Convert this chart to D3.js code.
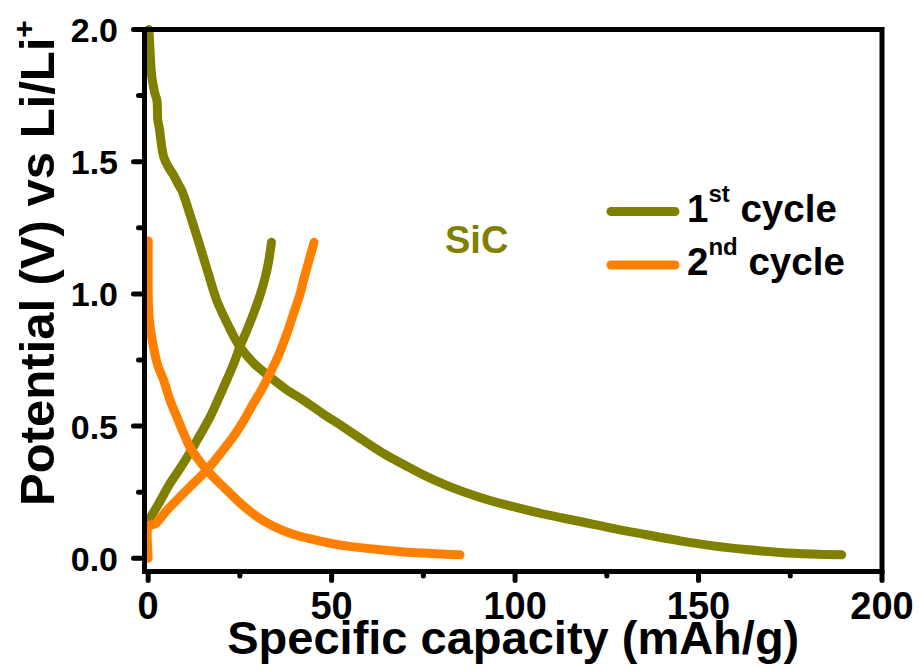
<!DOCTYPE html>
<html>
<head>
<meta charset="utf-8">
<script src="https://cdnjs.cloudflare.com/ajax/libs/d3/7.8.5/d3.min.js"></script>
<style>
  html, body { margin: 0; padding: 0; background: #fff; }
  svg { display: block; }
  text { font-family: "Liberation Sans", Arial, Helvetica, sans-serif; font-weight: bold; fill: #000; }
</style>
</head>
<body>
<svg id="chart" width="919" height="670"></svg>
<script>
// ---- Data ----
// 1st cycle, discharge (olive)
const c1DisCap = [0.2, 0.4, 0.8, 1.0, 1.8, 2.4, 2.6, 3.0, 4.2, 5.5, 6.9, 8.0, 9.2, 11.4, 13.7, 16.4, 18.7, 21.5, 25, 29, 33.2, 37.5, 42.3, 47.5, 53.2, 58.5, 64.1, 70, 75.5, 82, 90.5, 99.5, 108.5, 117.7, 127, 135.9, 145, 154, 163, 172.2, 181, 189];
const c1DisV   = [2.0, 1.95, 1.85, 1.82, 1.76, 1.73, 1.66, 1.63, 1.52, 1.48, 1.45, 1.42, 1.39, 1.30, 1.20, 1.076, 0.975, 0.89, 0.80, 0.735, 0.686, 0.64, 0.598, 0.548, 0.497, 0.447, 0.397, 0.352, 0.312, 0.272, 0.230, 0.195, 0.165, 0.139, 0.112, 0.089, 0.066, 0.047, 0.033, 0.022, 0.016, 0.013];
// 1st cycle, charge (olive)
const c1ChgCap = [0, 3, 6, 8.7, 11.4, 14.2, 16.9, 19.2, 21.4, 23.3, 25, 26.9, 28.7, 30.5, 31.9, 32.8, 33.6];
const c1ChgV   = [0.14, 0.21, 0.284, 0.34, 0.40, 0.468, 0.535, 0.605, 0.674, 0.735, 0.80, 0.862, 0.925, 0.995, 1.063, 1.12, 1.195];
// 2nd cycle, discharge (orange)
const c2DisCap = [0, 0.1, 0.5, 1.45, 2.6, 4.2, 5.9, 7.8, 9.6, 11.4, 13.6, 16, 19, 22.3, 25.8, 29.6, 34, 38.7, 44, 49.6, 56, 63.2, 69, 75, 80, 85];
const c2DisV   = [1.2, 0.95, 0.88, 0.80, 0.73, 0.674, 0.60, 0.535, 0.475, 0.42, 0.375, 0.334, 0.29, 0.246, 0.20, 0.158, 0.122, 0.095, 0.074, 0.057, 0.043, 0.032, 0.025, 0.02, 0.016, 0.013];
// 2nd cycle, charge (orange)
const c2ChgCap = [0, 0, 0.5, 1.9, 5, 8.7, 12.3, 16, 19.6, 23.2, 26, 28.7, 31, 33.2, 35.6, 37.8, 39.6, 41.4, 42.3, 43.7, 45.2];
const c2ChgV   = [0.0, 0.12, 0.125, 0.13, 0.18, 0.233, 0.283, 0.334, 0.395, 0.46, 0.52, 0.586, 0.64, 0.70, 0.77, 0.85, 0.925, 1.0, 1.05, 1.12, 1.195];

const seriesNames = ["1st cycle", "2nd cycle"];
const seriesColors = ["#808000", "#ff8000"];
const xTicksMajor = [0, 50, 100, 150, 200];
const xTicksMinor = [25, 75, 125, 175];
const yTicksMajor = [0.0, 0.5, 1.0, 1.5, 2.0];
const yTicksMinor = [0.25, 0.75, 1.25, 1.75];
const xTitle = "Specific capacity (mAh/g)";
const yTitle = "Potential (V) vs Li/Li";
const sampleLabel = "SiC";

// ---- Layout ----
const svg = d3.select("#chart");
const L = 144.5, R = 882, T = 29.5, B = 571.5;
const x = d3.scaleLinear().domain([-1, 200]).range([L, R]);
const y = d3.scaleLinear().domain([-0.05, 2.0]).range([B, T]);

const line = d3.line().x(d => x(d[0])).y(d => y(d[1])).curve(d3.curveCatmullRom.alpha(0.5));
const zip = (a, b) => a.map((v, i) => [v, b[i]]);

const curves = [
  { pts: zip(c1DisCap, c1DisV), color: seriesColors[0] },
  { pts: zip(c1ChgCap, c1ChgV), color: seriesColors[0] },
  { pts: zip(c2DisCap, c2DisV), color: seriesColors[1] },
  { pts: zip(c2ChgCap, c2ChgV), color: seriesColors[1] }
];

svg.append("g").selectAll("path").data(curves).join("path")
  .attr("d", d => line(d.pts))
  .attr("fill", "none")
  .attr("stroke", d => d.color)
  .attr("stroke-width", 9)
  .attr("stroke-linecap", "round")
  .attr("stroke-linejoin", "round");

// ---- Frame ----
svg.append("rect").attr("x", L).attr("y", T).attr("width", R - L).attr("height", B - T)
  .attr("fill", "none").attr("stroke", "#000").attr("stroke-width", 5);

// ---- Ticks ----
const tickG = svg.append("g").attr("stroke", "#000").attr("stroke-width", 5).attr("stroke-linecap", "round");
tickG.selectAll(".xM").data(xTicksMajor).join("line").attr("class", "xM")
  .attr("x1", d => x(d)).attr("x2", d => x(d)).attr("y1", B).attr("y2", B + 9);
tickG.selectAll(".xm").data(xTicksMinor).join("line").attr("class", "xm")
  .attr("x1", d => x(d)).attr("x2", d => x(d)).attr("y1", B).attr("y2", B + 4.5);
tickG.selectAll(".yM").data(yTicksMajor).join("line").attr("class", "yM")
  .attr("x1", L).attr("x2", L - 11).attr("y1", d => y(d)).attr("y2", d => y(d));
tickG.selectAll(".ym").data(yTicksMinor).join("line").attr("class", "ym")
  .attr("x1", L).attr("x2", L - 6).attr("y1", d => y(d)).attr("y2", d => y(d));

// ---- Tick labels ----
svg.append("g").selectAll("text").data(xTicksMajor).join("text")
  .attr("x", d => x(d)).attr("y", 619)
  .attr("text-anchor", "middle").attr("font-size", 38)
  .text(d => d3.format("d")(d));
svg.append("g").selectAll("text").data(yTicksMajor).join("text")
  .attr("x", 118).attr("y", d => y(d) + 12.5)
  .attr("text-anchor", "end").attr("font-size", 34)
  .text(d => d3.format(".1f")(d));

// ---- Axis titles ----
svg.append("text").attr("x", (L + R) / 2).attr("y", 654)
  .attr("text-anchor", "middle").attr("font-size", 47).text(xTitle);

const yt = svg.append("text").attr("transform", "translate(54,263) rotate(-90)")
  .attr("text-anchor", "middle").attr("font-size", 49);
yt.append("tspan").text(yTitle);
yt.append("tspan").attr("font-size", 30).attr("dy", -20).text("+");

// ---- SiC label ----
svg.append("text").attr("x", 445).attr("y", 253).attr("font-size", 38)
  .style("fill", seriesColors[0]).text(sampleLabel);

// ---- Legend ----
const legendY = [221.5, 275];
const sups = ["st", "nd"];
const lg = svg.append("g");
seriesNames.forEach((name, i) => {
  lg.append("line").attr("x1", 611).attr("x2", 675)
    .attr("y1", legendY[i] - 10).attr("y2", legendY[i] - 10)
    .attr("stroke", seriesColors[i]).attr("stroke-width", 9).attr("stroke-linecap", "round");
  const t = lg.append("text").attr("x", 687).attr("y", legendY[i]).attr("font-size", 38.5);
  t.append("tspan").text(name.charAt(0));
  t.append("tspan").attr("font-size", 24).attr("dy", -20).text(sups[i]);
  t.append("tspan").attr("dy", 20).text(" " + name.split(" ")[1]);
});
</script>
</body>
</html>
